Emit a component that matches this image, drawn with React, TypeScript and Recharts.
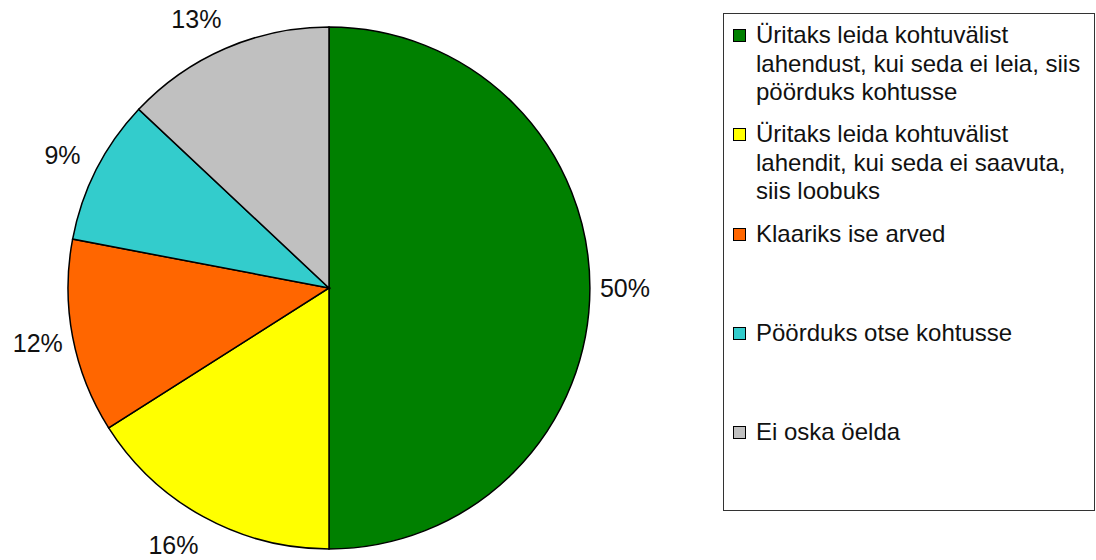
import { PieChart, Pie, Cell, Legend } from "recharts";

const categories = [
  "Üritaks leida kohtuvälist lahendust, kui seda ei leia, siis pöörduks kohtusse",
  "Üritaks leida kohtuvälist lahendit, kui seda ei saavuta, siis loobuks",
  "Klaariks ise arved",
  "Pöörduks otse kohtusse",
  "Ei oska öelda",
];
const shares = [50, 16, 12, 9, 13];
const colors = ["#008000", "#ffff00", "#ff6600", "#33cccc", "#c0c0c0"];

const data = categories.map((name, i) => ({ name, value: shares[i] }));

const FONT = "'Liberation Sans', Arial, Helvetica, sans-serif";
const RADIAN = Math.PI / 180;

const renderLabel = (props: any) => {
  const { cx, cy, midAngle, percent } = props;
  const cos = Math.cos(-midAngle * RADIAN);
  const sin = Math.sin(-midAngle * RADIAN);
  // push labels sideways a bit when they sit above/below the pie
  const nudge = Math.sign(cos) * (1 - Math.abs(cos)) * 25;
  const x = cx + 296 * cos + nudge;
  const y = cy + 293 * sin;
  return (
    <text
      x={x}
      y={y}
      textAnchor="middle"
      dominantBaseline="central"
      fill="#111"
      fontSize={25}
      fontFamily={FONT}
    >
      {`${Math.round(percent * 100)}%`}
    </text>
  );
};

const LegendBox = () => (
  <div
    style={{
      position: "relative",
      width: 370,
      height: 496,
      border: "1.5px solid #333",
      background: "#fff",
      fontFamily: FONT,
      fontSize: 24,
      lineHeight: "28.5px",
      color: "#111",
    }}
  >
    {categories.map((name, i) => (
      <div
        key={`legend-${i}`}
        style={{
          position: "absolute",
          left: 9,
          top: 7 + i * 99.3,
          display: "flex",
          alignItems: "flex-start",
        }}
      >
        <span
          style={{
            display: "inline-block",
            width: 11,
            height: 11,
            marginTop: 8,
            marginRight: 10,
            background: colors[i],
            border: "1px solid #000",
            flexShrink: 0,
          }}
        />
        <span style={{ width: 336, display: "inline-block" }}>{name}</span>
      </div>
    ))}
  </div>
);

export default function App() {
  return (
    <div style={{ position: "fixed", left: 0, top: 0, width: 1096, height: 560, background: "#fff" }}>
      <PieChart width={1096} height={560} margin={{ top: 0, right: 0, bottom: 0, left: 0 }}>
        <Pie
          data={data}
          dataKey="value"
          nameKey="name"
          cx={329}
          cy={288}
          outerRadius={261}
          startAngle={90}
          endAngle={-270}
          stroke="#000"
          strokeWidth={1.5}
          label={renderLabel}
          labelLine={false}
          isAnimationActive={false}
        >
          {data.map((entry, index) => (
            <Cell key={`cell-${index}`} fill={colors[index % colors.length]} />
          ))}
        </Pie>
        <Legend
          layout="vertical"
          align="right"
          verticalAlign="top"
          content={<LegendBox />}
          wrapperStyle={{ position: "absolute", left: 723, top: 13, width: 373 }}
        />
      </PieChart>
    </div>
  );
}
